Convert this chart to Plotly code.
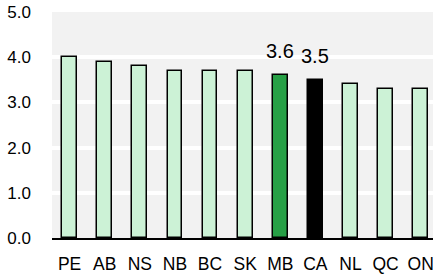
import plotly.graph_objects as go

categories = ["PE", "AB", "NS", "NB", "BC", "SK", "MB", "CA", "NL", "QC", "ON"]
values = [4.0, 3.9, 3.8, 3.7, 3.7, 3.7, 3.6, 3.5, 3.4, 3.3, 3.3]
highlight = {"MB": "#27A046", "CA": "#000000"}
labelled = ["MB", "CA"]
y_ticks = [0, 1, 2, 3, 4, 5]

base_color = "#CCF2D6"
colors = [highlight.get(c, base_color) for c in categories]
font_family = "Liberation Sans, Arial"

fig = go.Figure()
fig.add_trace(go.Bar(
    x=categories, y=values,
    marker=dict(color=colors, line=dict(color="#000000", width=1.5)),
    width=0.42,
))

for c, v in zip(categories, values):
    if c in labelled:
        fig.add_annotation(x=c, y=v, text=f"{v:.1f}", showarrow=False,
                           yanchor="bottom", yshift=11,
                           font=dict(family=font_family, size=20, color="#000000"))

fig.update_layout(
    width=433, height=279,
    margin=dict(l=52, r=0, t=12, b=41),
    paper_bgcolor="#FFFFFF",
    plot_bgcolor="#F2F2F2",
    showlegend=False,
    bargap=0,
)
fig.update_xaxes(
    type="category", range=[-0.5, 10.35],
    showline=True, linecolor="#000000", linewidth=2,
    showgrid=False, ticks="",
    tickfont=dict(family=font_family, size=17.5, color="#000000"),
    ticklabelstandoff=9,
)
fig.update_yaxes(
    range=[0, 5], tickvals=y_ticks, ticktext=[f"{t:.1f}" for t in y_ticks],
    showgrid=True, gridcolor="#FFFFFF", gridwidth=4,
    zeroline=False, showline=False, ticks="",
    tickfont=dict(family=font_family, size=17, color="#000000"),
    ticklabelstandoff=20,
)

# remove the browser's default body margin so the figure fills the window exactly
fig.write_html("out.html",
               config={"displayModeBar": False},
               post_script="document.body.style.margin='0';document.body.style.overflow='hidden';")
